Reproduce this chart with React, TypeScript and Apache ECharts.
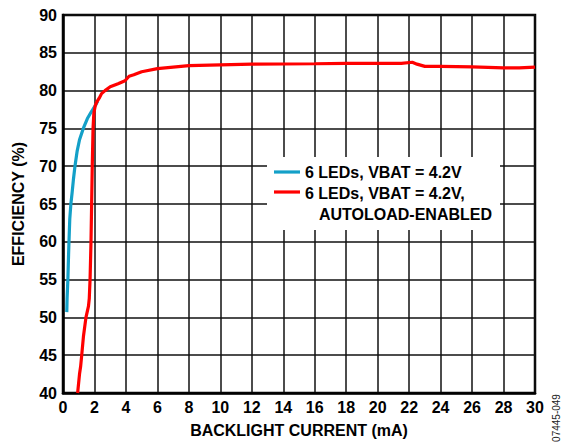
import React, { useEffect, useRef } from "react";
import * as echarts from "echarts";

const blueName = "6 LEDs, VBAT = 4.2V";
const redName = "6 LEDs, VBAT = 4.2V,";
const redName2 = "AUTOLOAD-ENABLED";

const blueData: [number, number][] = [
  [0.24, 50.7], [0.26, 52.5], [0.31, 55], [0.35, 58], [0.38, 60], [0.43, 63],
  [0.5, 65], [0.58, 66.5], [0.66, 68.2], [0.76, 70], [0.9, 72], [1.05, 73.5],
  [1.29, 75], [1.55, 76.3], [1.8, 77.2], [2.05, 78.0], [2.2, 78.6],
];

const redData: [number, number][] = [
  [0.93, 40], [1.05, 42.5], [1.12, 43.5], [1.19, 45], [1.3, 47.5], [1.46, 50],
  [1.62, 51.5], [1.67, 52.5], [1.72, 55], [1.78, 60], [1.82, 65], [1.86, 70],
  [1.91, 75], [1.96, 77], [2.05, 78], [2.15, 78.5], [2.3, 79.0], [2.45, 79.6],
  [2.67, 80.0], [3.0, 80.5], [3.5, 80.9], [3.94, 81.3], [4.2, 81.9], [4.5, 82.1],
  [5, 82.5], [6, 82.9], [7, 83.1], [8, 83.3], [10, 83.4], [12, 83.5],
  [16, 83.55], [18, 83.6], [20, 83.6], [21.5, 83.6], [22.2, 83.75], [22.5, 83.5],
  [23, 83.2], [24, 83.2], [26, 83.15], [28, 83.0], [29, 83.0], [30, 83.1],
];

const xTitle = "BACKLIGHT CURRENT (mA)";
const yTitle = "EFFICIENCY (%)";
const figId = "07445-049";

const BLUE = "#13a0c8";
const RED = "#ff0000";
const FONT = "'Liberation Sans', Arial, Helvetica, sans-serif";
const FS = 16;

export default function App() {
  const ref = useRef<HTMLDivElement>(null);
  useEffect(() => {
    if (!ref.current) return;
    const chart = echarts.init(ref.current, undefined, { renderer: "svg" });
    chart.setOption({
      animation: false,
      backgroundColor: "#ffffff",
      grid: {
        left: 63, right: 26, top: 15, bottom: 49,
        show: true, borderColor: "#000", borderWidth: 2.5,
      },
      xAxis: {
        type: "value", min: 0, max: 30, interval: 2,
        axisLine: { show: true, lineStyle: { color: "#000", width: 2.5 } },
        axisTick: { show: false },
        axisLabel: { color: "#000", fontFamily: FONT, fontWeight: "bold", fontSize: FS, margin: 6 },
        splitLine: { show: true, lineStyle: { color: "#111", width: 1.5 } },
        name: xTitle, nameLocation: "middle", nameGap: 29,
        nameTextStyle: { color: "#000", fontFamily: FONT, fontWeight: "bold", fontSize: FS },
      },
      yAxis: {
        type: "value", min: 40, max: 90, interval: 5,
        axisLine: { show: true, lineStyle: { color: "#000", width: 2.5 } },
        axisTick: { show: false },
        axisLabel: { color: "#000", fontFamily: FONT, fontWeight: "bold", fontSize: FS, margin: 6 },
        splitLine: { show: true, lineStyle: { color: "#111", width: 1.5 } },
        name: yTitle, nameLocation: "middle", nameGap: 37,
        nameTextStyle: { color: "#000", fontFamily: FONT, fontWeight: "bold", fontSize: FS },
      },
      series: [
        {
          name: blueName, type: "line", data: blueData, showSymbol: false,
          lineStyle: { color: BLUE, width: 3.2 }, z: 3,
        },
        {
          name: redName, type: "line", data: redData, showSymbol: false,
          lineStyle: { color: RED, width: 3.2 }, z: 4,
        },
      ],
      graphic: [
        { type: "rect", z: 100, shape: { x: 267, y: 157, width: 233, height: 73 }, style: { fill: "#fff" } },
        { type: "line", z: 101, shape: { x1: 274, y1: 172, x2: 300, y2: 172 }, style: { stroke: BLUE, lineWidth: 3.2 } },
        { type: "line", z: 101, shape: { x1: 274, y1: 192, x2: 300, y2: 192 }, style: { stroke: RED, lineWidth: 3.2 } },
        { type: "text", z: 101, x: 305, y: 172.5, style: { text: blueName, fill: "#000", font: `bold ${FS}px ${FONT}`, textVerticalAlign: "middle" } },
        { type: "text", z: 101, x: 305, y: 193, style: { text: redName, fill: "#000", font: `bold ${FS}px ${FONT}`, textVerticalAlign: "middle" } },
        { type: "text", z: 101, x: 319, y: 214, style: { text: redName2, fill: "#000", font: `bold ${FS}px ${FONT}`, textVerticalAlign: "middle" } },
        { type: "text", z: 101, x: 556, y: 418, rotation: Math.PI / 2, style: { text: figId, fill: "#222", font: `10px ${FONT}`, textAlign: "center", textVerticalAlign: "middle" } },
      ],
    });
    return () => chart.dispose();
  }, []);
  return (
    <div
      ref={ref}
      style={{ position: "fixed", left: 0, top: 0, width: 561, height: 443 }}
    />
  );
}
